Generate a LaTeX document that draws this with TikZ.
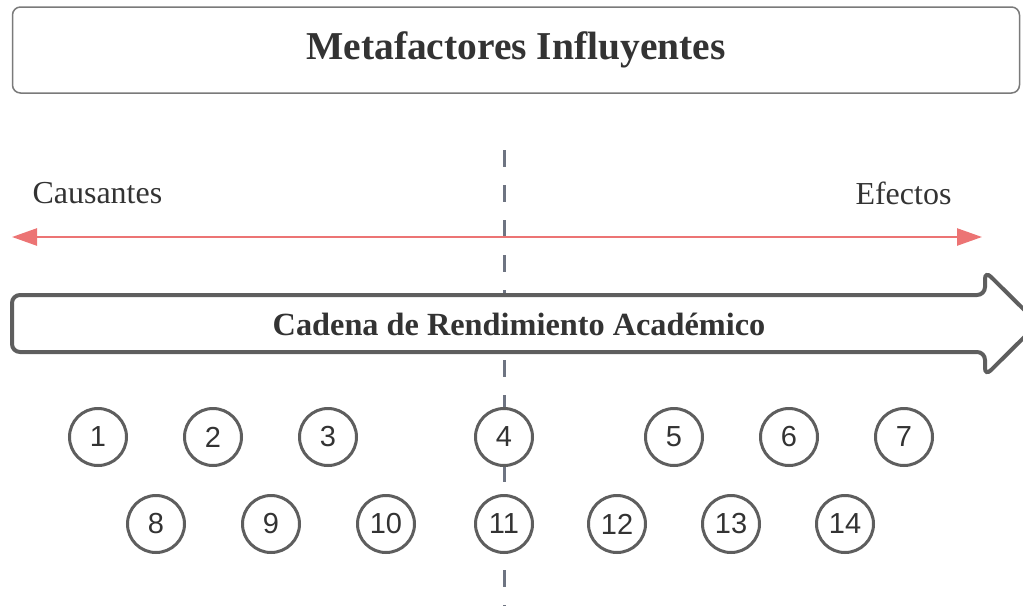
\documentclass[tikz,border=0pt]{standalone}
\usepackage{fontspec}
\setmainfont{Liberation Serif}
\newfontfamily\numfont{Liberation Sans}
\usepackage{tikz}
\usetikzlibrary{arrows.meta}
\usetikzlibrary{positioning}

\definecolor{boxgray}{HTML}{7A7A7A}
\definecolor{darkgray}{HTML}{5E5E5E}
\definecolor{slate}{HTML}{6E7482}
\definecolor{softred}{HTML}{EC7474}
\definecolor{inkgray}{HTML}{333333}

\begin{document}
\begin{tikzpicture}[x=1pt, y=-1pt, every node/.style={text=inkgray}]
	\useasboundingbox (0,0) rectangle (1023,606);

	% title
	\node[draw=boxgray, line width=1.5pt, rounded corners=8pt, minimum width=1007pt, minimum height=86pt]
		(title) at (516,50) {\fontsize{39.5}{44}\selectfont\bfseries Metafactores Influyentes};

	% labels
	\node[anchor=west] (causa) at (29,193) {\fontsize{32}{36}\selectfont Causantes};
	\node[anchor=east] (efecto) at (955,193) {\fontsize{32}{36}\selectfont Efectos};

	% points
	\coordinate (top) at (504,150);
	\coordinate (bot) at (504,606);
	\coordinate (left) at (12,237);
	\coordinate (right) at (982,237);

	\draw[slate, line width=3pt, dash pattern=on 17pt off 18pt] (top) -- (bot);

	% big arrow
	\draw[darkgray, fill=white, line width=4pt, rounded corners=8pt]
		(12,295) -- (985,295) -- (985,271) -- (1038,323.5) -- (985,376)
		-- (985,352) -- (12,352) -- cycle;
	\node (chain) at (519,324) {\fontsize{32.3}{36}\selectfont\bfseries Cadena de Rendimiento Acad\'emico};

	\begin{scope}[every node/.style={circle, draw=darkgray, fill=white, line width=3pt,
	              minimum size=57pt, inner sep=0pt, text=inkgray, font=\numfont\fontsize{29}{32}\selectfont}]
		\node (1) at (98,437) {1};
		\node (2) at (213,437) {2};
		\node (3) at (328,437) {3};
		\node (4) at (504,437) {4};
		\node (5) at (674,437) {5};
		\node (6) at (789,437) {6};
		\node (7) at (904,437) {7};
		\node (8) at (156,524) {8};
		\node (9) at (271,524) {9};
		\node (10) at (386,524) {10};
		\node (11) at (504,524) {11};
		\node (12) at (617,524) {12};
		\node (13) at (731,524) {13};
		\node (14) at (845,524) {14};
	\end{scope}

	\begin{scope}[>={Triangle[length=25pt, width=17pt]}]
		\draw[softred, line width=2.5pt, <->] (left) -- (right);
	\end{scope}
\end{tikzpicture}
\end{document}
